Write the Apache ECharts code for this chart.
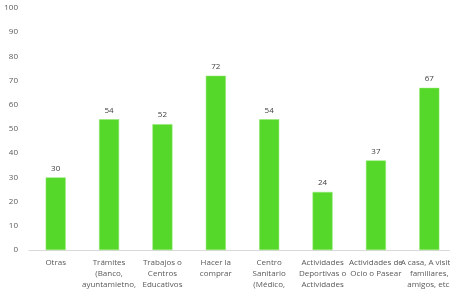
<!DOCTYPE html>
<html>
<head>
<meta charset="utf-8">
<script src="https://cdn.jsdelivr.net/npm/echarts@6/dist/echarts.min.js"></script>
<style>
  html, body { margin: 0; padding: 0; background: #fff; }
  #chart { width: 450px; height: 293px; }
</style>
</head>
<body>
<div id="chart"></div>
<script>
const categories = [
  "Otras",
  "Trámites\n(Banco,\nayuntamietno,\netc.)",
  "Trabajos o\nCentros\nEducativos",
  "Hacer la\ncomprar",
  "Centro\nSanitario\n(Médico,\nPsicológo,\netc.)",
  "Actividades\nDeportivas o\nActividades\nExtraescolares",
  "Actividades de\nOcio o Pasear",
  "A casa, A visitar\nfamiliares,\namigos, etc."
];
const values = [30, 54, 52, 72, 54, 24, 37, 67];
const yTicks = { min: 0, max: 100, step: 10 };

const chart = echarts.init(document.getElementById("chart"));
const textColor = "#595959";
const font = "'Open Sans', 'Liberation Sans', sans-serif";

chart.setOption({
  animation: false,
  grid: { left: 29, top: 8, width: 427, height: 242, containLabel: false, outerBoundsMode: "none" },
  xAxis: {
    type: "category",
    data: categories,
    axisLine: { lineStyle: { color: "#d9d9d9" } },
    axisTick: { show: false },
    axisLabel: {
      interval: 0,
      color: textColor,
      fontFamily: font,
      fontSize: 8,
      lineHeight: 11,
      margin: 7
    }
  },
  yAxis: {
    type: "value",
    min: yTicks.min,
    max: yTicks.max,
    interval: yTicks.step,
    axisLine: { show: false },
    axisTick: { show: false },
    splitLine: { show: false },
    axisLabel: { color: textColor, fontFamily: font, fontSize: 8, margin: 11 }
  },
  series: [
    {
      type: "bar",
      data: values,
      barWidth: 20,
      itemStyle: { color: "#56d82a", borderColor: "#8fe86f", borderWidth: 0.5 },
      label: {
        show: true,
        position: "top",
        distance: 5,
        color: "#404040",
        fontFamily: font,
        fontSize: 8
      }
    }
  ]
});
</script>
</body>
</html>
